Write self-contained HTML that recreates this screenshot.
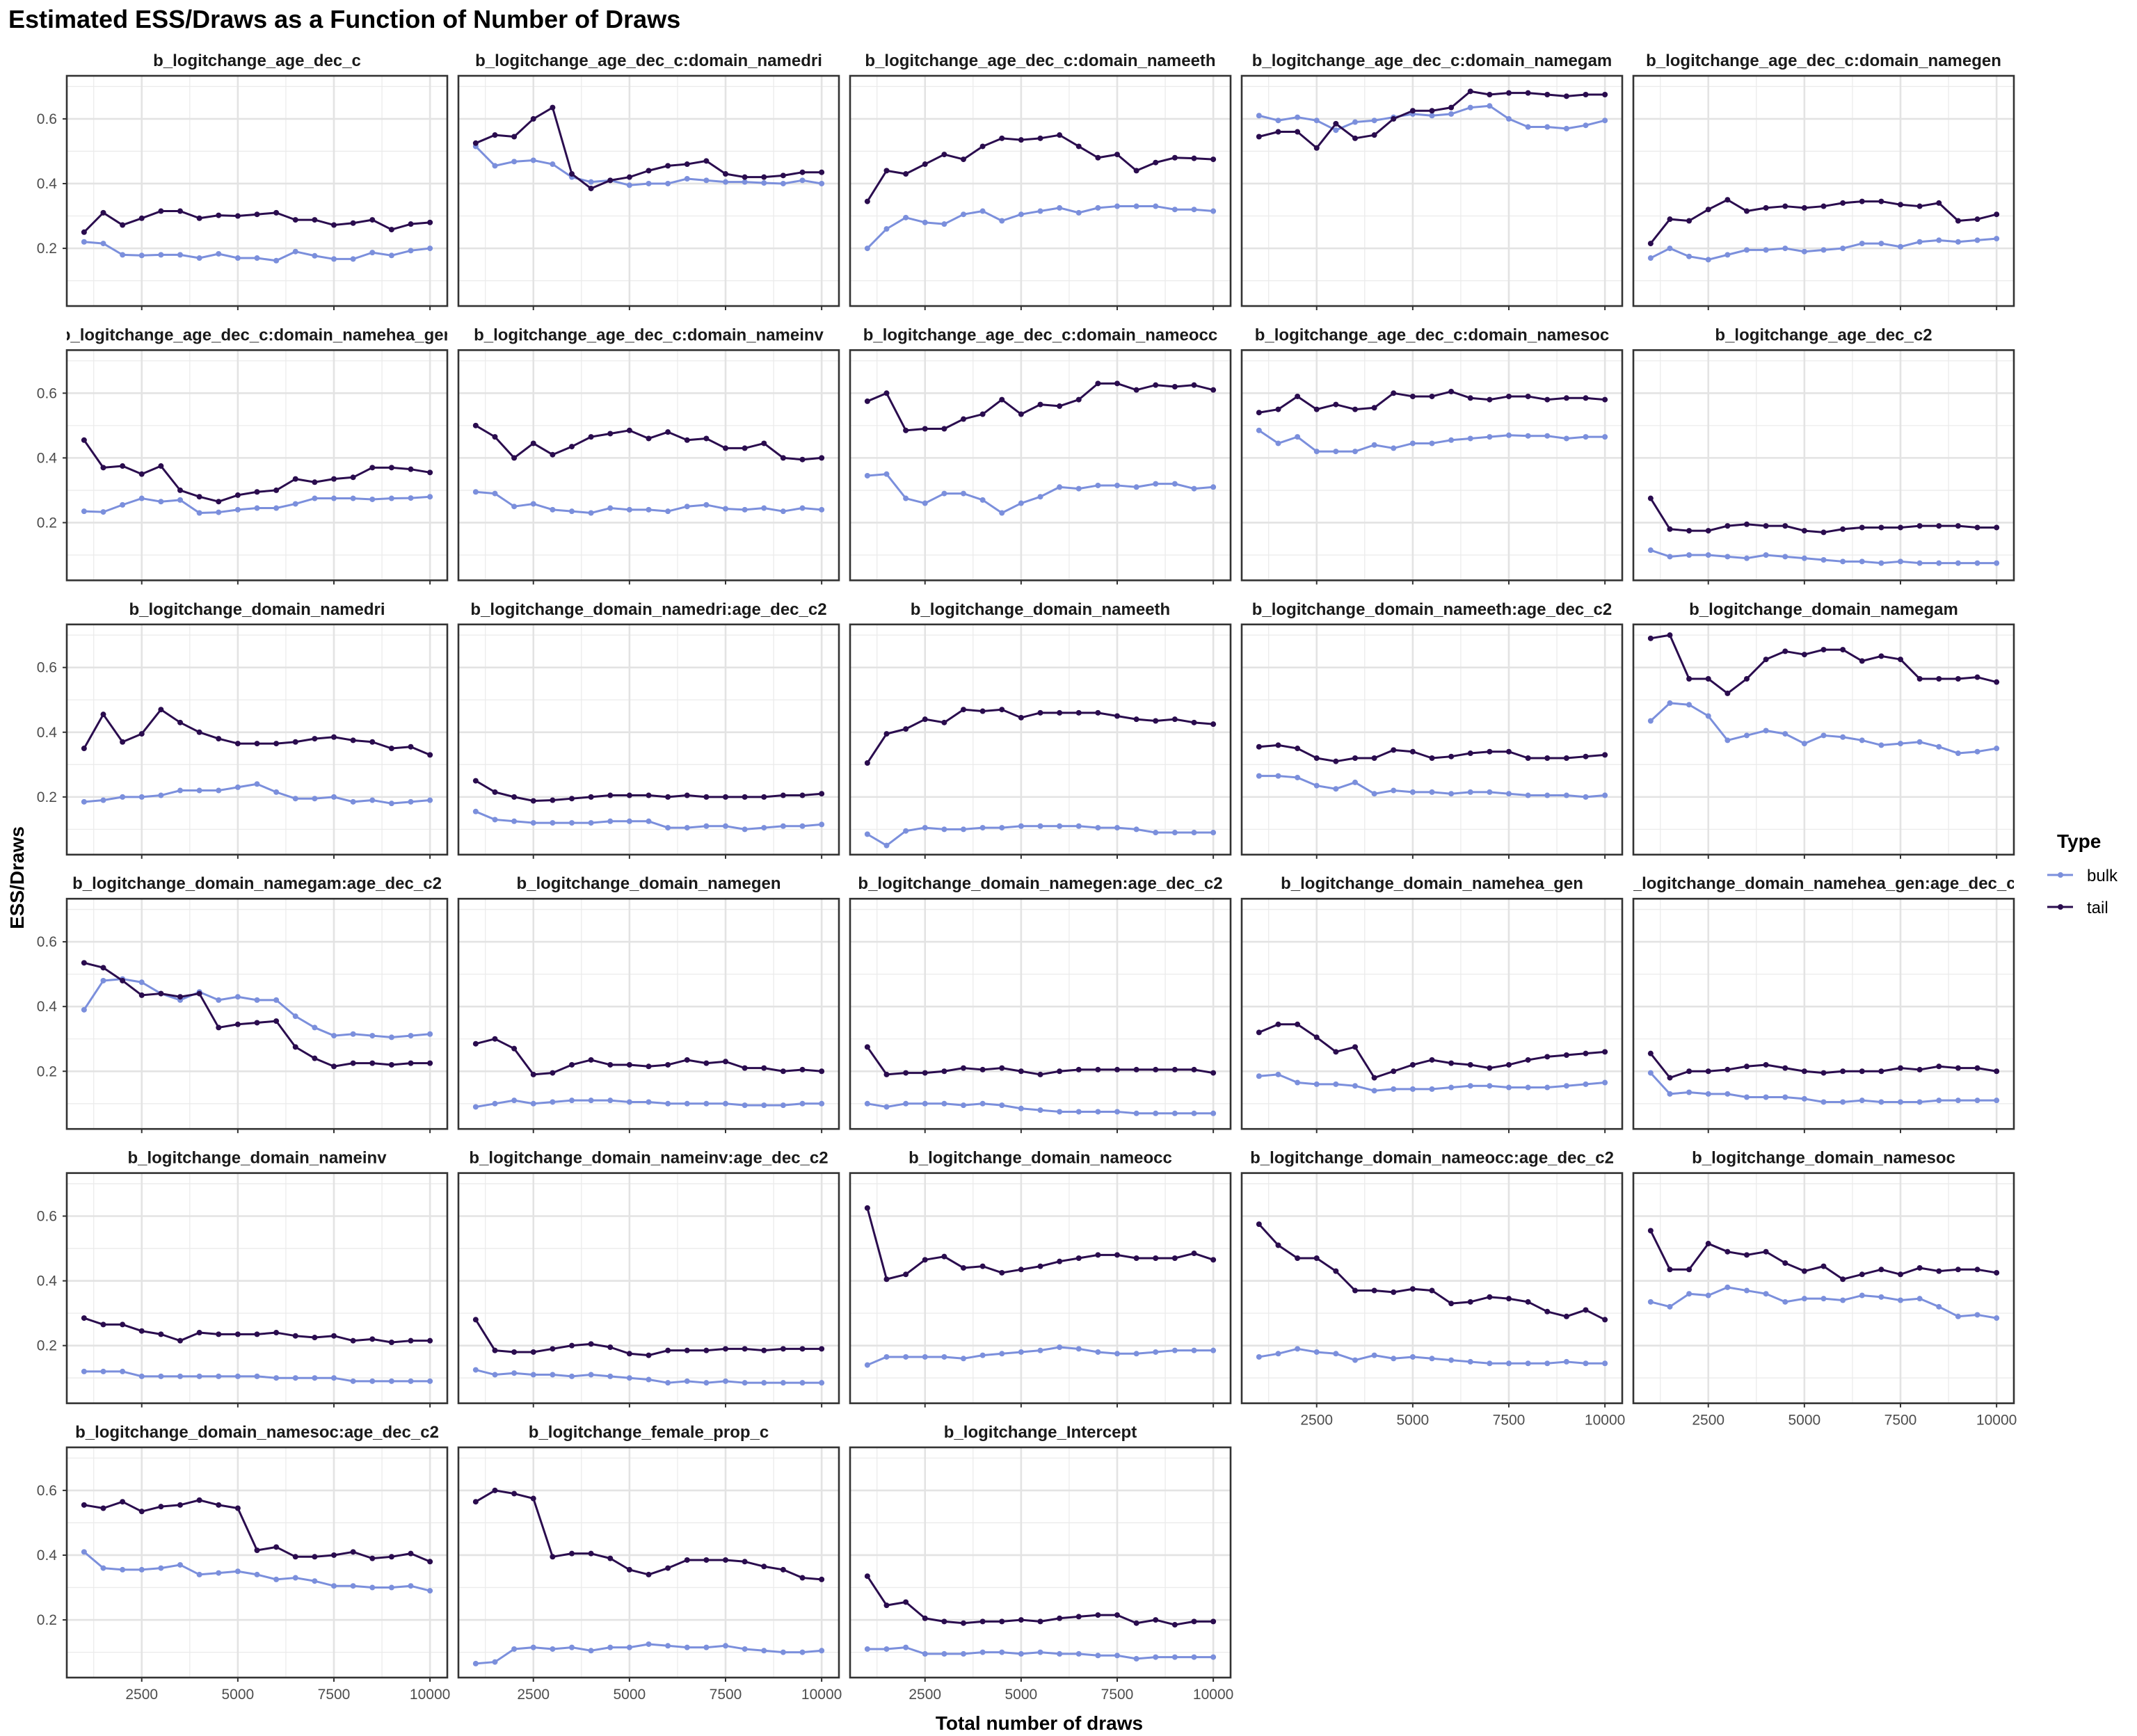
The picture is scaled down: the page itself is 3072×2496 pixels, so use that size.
<!DOCTYPE html>
<html><head><meta charset="utf-8"><style>
html,body{margin:0;padding:0;background:#fff;}
svg{display:block;font-family:"Liberation Sans",Arial,sans-serif;}
</style></head><body>
<svg id="chart" width="3072" height="2496" viewBox="0 0 3072 2496" xmlns="http://www.w3.org/2000/svg">
<rect x="0" y="0" width="3072" height="2496" fill="#fff"/>
<text x="12" y="40" font-size="36" font-weight="bold" fill="#000">Estimated ESS/Draws as a Function of Number of Draws</text>
<text transform="translate(34,1262) rotate(-90)" text-anchor="middle" font-size="28" font-weight="bold" fill="#000">ESS/Draws</text>
<text x="1494" y="2487" text-anchor="middle" font-size="28" font-weight="bold" fill="#000">Total number of draws</text>
<g>
<text x="2957" y="1219" font-size="28" font-weight="bold" fill="#000">Type</text>
<g>
<line x1="2943" y1="1258" x2="2980" y2="1258" stroke="#7b8fdc" stroke-width="3"/><circle cx="2962" cy="1258" r="4" fill="#7b8fdc"/>
<text x="3000" y="1267" font-size="24" fill="#000">bulk</text></g>
<g>
<line x1="2943" y1="1304" x2="2980" y2="1304" stroke="#2a0c4e" stroke-width="3"/><circle cx="2962" cy="1304" r="4" fill="#2a0c4e"/>
<text x="3000" y="1313" font-size="24" fill="#000">tail</text></g>
</g>
<g id="panels"></g>
</svg>
<script>
const draws = [1000,1500,2000,2500,3000,3500,4000,4500,5000,5500,6000,6500,7000,7500,8000,8500,9000,9500,10000];
const yTicks = [0.2,0.4,0.6];
const yTickLabels = ["0.2","0.4","0.6"];
const xTicks = [2500,5000,7500,10000];
const xTickLabels = ["2500","5000","7500","10000"];
const panelTitles = [
"b_logitchange_age_dec_c","b_logitchange_age_dec_c:domain_namedri","b_logitchange_age_dec_c:domain_nameeth","b_logitchange_age_dec_c:domain_namegam","b_logitchange_age_dec_c:domain_namegen",
"b_logitchange_age_dec_c:domain_namehea_gen","b_logitchange_age_dec_c:domain_nameinv","b_logitchange_age_dec_c:domain_nameocc","b_logitchange_age_dec_c:domain_namesoc","b_logitchange_age_dec_c2",
"b_logitchange_domain_namedri","b_logitchange_domain_namedri:age_dec_c2","b_logitchange_domain_nameeth","b_logitchange_domain_nameeth:age_dec_c2","b_logitchange_domain_namegam",
"b_logitchange_domain_namegam:age_dec_c2","b_logitchange_domain_namegen","b_logitchange_domain_namegen:age_dec_c2","b_logitchange_domain_namehea_gen","b_logitchange_domain_namehea_gen:age_dec_c2",
"b_logitchange_domain_nameinv","b_logitchange_domain_nameinv:age_dec_c2","b_logitchange_domain_nameocc","b_logitchange_domain_nameocc:age_dec_c2","b_logitchange_domain_namesoc",
"b_logitchange_domain_namesoc:age_dec_c2","b_logitchange_female_prop_c","b_logitchange_Intercept"];
const bulk = [
[.22,.215,.18,.178,.18,.18,.17,.183,.17,.17,.162,.19,.177,.167,.167,.187,.178,.193,.2],
[.515,.455,.468,.472,.46,.42,.405,.41,.395,.4,.4,.415,.41,.405,.405,.402,.4,.41,.4],
[.2,.26,.295,.28,.275,.305,.315,.285,.305,.315,.325,.31,.325,.33,.33,.33,.32,.32,.315],
[.61,.595,.605,.595,.565,.59,.595,.605,.615,.61,.615,.635,.64,.6,.575,.575,.57,.58,.595],
[.17,.2,.175,.165,.18,.195,.195,.2,.19,.195,.2,.215,.215,.205,.22,.225,.22,.225,.23],
[.235,.233,.255,.275,.265,.27,.23,.232,.24,.245,.245,.258,.275,.275,.275,.272,.275,.276,.28],
[.295,.29,.25,.258,.24,.235,.23,.245,.24,.24,.235,.25,.255,.243,.24,.245,.235,.245,.24],
[.345,.35,.275,.26,.29,.29,.27,.23,.26,.28,.31,.305,.315,.315,.31,.32,.32,.305,.31],
[.485,.445,.465,.42,.42,.42,.44,.43,.445,.445,.455,.46,.465,.47,.468,.468,.46,.465,.465],
[.115,.095,.1,.1,.095,.09,.1,.095,.09,.085,.08,.08,.075,.08,.075,.075,.075,.075,.075],
[.185,.19,.2,.2,.205,.22,.22,.22,.23,.24,.215,.195,.195,.2,.185,.19,.18,.185,.19],
[.155,.13,.125,.12,.12,.12,.12,.125,.125,.125,.105,.105,.11,.11,.1,.105,.11,.11,.115],
[.085,.05,.095,.105,.1,.1,.105,.105,.11,.11,.11,.11,.105,.105,.1,.09,.09,.09,.09],
[.265,.265,.26,.235,.225,.245,.21,.22,.215,.215,.21,.215,.215,.21,.205,.205,.205,.2,.205],
[.435,.49,.485,.45,.375,.39,.405,.395,.365,.39,.385,.375,.36,.365,.37,.355,.335,.34,.35],
[.39,.48,.485,.475,.44,.42,.445,.42,.43,.42,.42,.37,.335,.31,.315,.31,.305,.31,.315],
[.09,.1,.11,.1,.105,.11,.11,.11,.105,.105,.1,.1,.1,.1,.095,.095,.095,.1,.1],
[.1,.09,.1,.1,.1,.095,.1,.095,.085,.08,.075,.075,.075,.075,.07,.07,.07,.07,.07],
[.185,.19,.165,.16,.16,.155,.14,.145,.145,.145,.15,.155,.155,.15,.15,.15,.155,.16,.165],
[.195,.13,.135,.13,.13,.12,.12,.12,.115,.105,.105,.11,.105,.105,.105,.11,.11,.11,.11],
[.12,.12,.12,.105,.105,.105,.105,.105,.105,.105,.1,.1,.1,.1,.09,.09,.09,.09,.09],
[.125,.11,.115,.11,.11,.105,.11,.105,.1,.095,.085,.09,.085,.09,.085,.085,.085,.085,.085],
[.14,.165,.165,.165,.165,.16,.17,.175,.18,.185,.195,.19,.18,.175,.175,.18,.185,.185,.185],
[.165,.175,.19,.18,.175,.155,.17,.16,.165,.16,.155,.15,.145,.145,.145,.145,.15,.145,.145],
[.335,.32,.36,.355,.38,.37,.36,.335,.345,.345,.34,.355,.35,.34,.345,.32,.29,.295,.285],
[.41,.36,.355,.355,.36,.37,.34,.345,.35,.34,.325,.33,.32,.305,.305,.3,.3,.305,.29],
[.065,.07,.11,.115,.11,.115,.105,.115,.115,.125,.12,.115,.115,.12,.11,.105,.1,.1,.105],
[.11,.11,.115,.095,.095,.095,.1,.1,.095,.1,.095,.095,.09,.09,.08,.085,.085,.085,.085]];
const tail = [
[.25,.31,.272,.293,.315,.315,.293,.302,.3,.305,.31,.288,.288,.272,.278,.288,.258,.275,.28],
[.525,.55,.545,.6,.635,.43,.385,.41,.42,.44,.455,.46,.47,.43,.42,.42,.425,.435,.435],
[.345,.44,.43,.46,.49,.475,.515,.54,.535,.54,.55,.515,.48,.49,.44,.465,.48,.478,.475],
[.545,.56,.56,.51,.585,.54,.55,.6,.625,.625,.635,.685,.675,.68,.68,.675,.67,.675,.675],
[.215,.29,.285,.32,.35,.315,.325,.33,.325,.33,.34,.345,.345,.335,.33,.34,.285,.29,.305],
[.455,.37,.375,.35,.375,.3,.28,.265,.285,.295,.3,.335,.325,.335,.34,.37,.37,.365,.355],
[.5,.465,.4,.445,.41,.435,.465,.475,.485,.46,.48,.455,.46,.43,.43,.445,.4,.395,.4],
[.575,.6,.485,.49,.49,.52,.535,.58,.535,.565,.56,.58,.63,.63,.61,.625,.62,.625,.61],
[.54,.55,.59,.55,.565,.55,.555,.6,.59,.59,.605,.585,.58,.59,.59,.58,.585,.585,.58],
[.275,.18,.175,.175,.19,.195,.19,.19,.175,.17,.18,.185,.185,.185,.19,.19,.19,.185,.185],
[.35,.455,.37,.395,.47,.43,.4,.38,.365,.365,.365,.37,.38,.385,.375,.37,.35,.355,.33],
[.25,.215,.2,.188,.19,.195,.2,.205,.205,.205,.2,.205,.2,.2,.2,.2,.205,.205,.21],
[.305,.395,.41,.44,.43,.47,.465,.47,.445,.46,.46,.46,.46,.45,.44,.435,.44,.43,.425],
[.355,.36,.35,.32,.31,.32,.32,.345,.34,.32,.325,.335,.34,.34,.32,.32,.32,.325,.33],
[.69,.7,.565,.565,.52,.565,.625,.65,.64,.655,.655,.62,.635,.625,.565,.565,.565,.57,.555],
[.535,.52,.48,.435,.44,.43,.44,.335,.345,.35,.355,.275,.24,.215,.225,.225,.22,.225,.225],
[.285,.3,.27,.19,.195,.22,.235,.22,.22,.215,.22,.235,.225,.23,.21,.21,.2,.205,.2],
[.275,.19,.195,.195,.2,.21,.205,.21,.2,.19,.2,.205,.205,.205,.205,.205,.205,.205,.195],
[.32,.345,.345,.305,.26,.275,.18,.2,.22,.235,.225,.22,.21,.22,.235,.245,.25,.255,.26],
[.255,.18,.2,.2,.205,.215,.22,.21,.2,.195,.2,.2,.2,.21,.205,.215,.21,.21,.2],
[.285,.265,.265,.245,.235,.215,.24,.235,.235,.235,.24,.23,.225,.23,.215,.22,.21,.215,.215],
[.28,.185,.18,.18,.19,.2,.205,.195,.175,.17,.185,.185,.185,.19,.19,.185,.19,.19,.19],
[.625,.405,.42,.465,.475,.44,.445,.425,.435,.445,.46,.47,.48,.48,.47,.47,.47,.485,.465],
[.575,.51,.47,.47,.43,.37,.37,.365,.375,.37,.33,.335,.35,.345,.335,.305,.29,.31,.28],
[.555,.435,.435,.515,.49,.48,.49,.455,.43,.445,.405,.42,.435,.42,.44,.43,.435,.435,.425],
[.555,.545,.565,.535,.55,.555,.57,.555,.545,.415,.425,.395,.395,.4,.41,.39,.395,.405,.38],
[.565,.6,.59,.575,.395,.405,.405,.39,.355,.34,.36,.385,.385,.385,.38,.365,.355,.33,.325],
[.335,.245,.255,.205,.195,.19,.195,.195,.2,.195,.205,.21,.215,.215,.19,.2,.185,.195,.195]];

const NS="http://www.w3.org/2000/svg";
const PX0=96, PW=547, PSTEP=563, PY0=109, PH=331, RSTEP=394.4;
const XMIN=550, XMAX=10450, YMIN=0.0218, YMAX=0.733;
const BULK="#7b8fdc", TAIL="#2a0c4e";
function mk(tag,attrs,parent){const e=document.createElementNS(NS,tag);for(const k in attrs)e.setAttribute(k,attrs[k]);parent.appendChild(e);return e;}
const root=document.getElementById('panels');
const defs=mk('defs',{},root);
const n=panelTitles.length;
for(let i=0;i<n;i++){
  const col=i%5,row=Math.floor(i/5);
  const px=PX0+col*PSTEP, py=PY0+row*RSTEP;
  const sx=v=>px+(v-XMIN)/(XMAX-XMIN)*PW;
  const sy=v=>py+PH-(v-YMIN)/(YMAX-YMIN)*PH;
  const g=mk('g',{},root);
  
  
  const cp=mk('clipPath',{id:'cp'+i},defs);
  mk('rect',{x:px,y:py-50,width:PW,height:50},cp);
  const st=mk('text',{x:px+PW/2,y:py-14,'text-anchor':'middle','font-size':'24','font-weight':'bold',fill:'#1a1a1a','clip-path':'url(#cp'+i+')'},g);
  
  
  st.textContent=panelTitles[i];
  // minor grid
  [0.1,0.3,0.5,0.7].forEach(v=>mk('line',{x1:px,x2:px+PW,y1:sy(v),y2:sy(v),stroke:'#ebebeb','stroke-width':1.3},g));
  [1250,3750,6250,8750].forEach(v=>mk('line',{x1:sx(v),x2:sx(v),y1:py,y2:py+PH,stroke:'#ebebeb','stroke-width':1.3},g));
  yTicks.forEach(v=>mk('line',{x1:px,x2:px+PW,y1:sy(v),y2:sy(v),stroke:'#e3e3e3','stroke-width':2.6},g));
  xTicks.forEach(v=>mk('line',{x1:sx(v),x2:sx(v),y1:py,y2:py+PH,stroke:'#e3e3e3','stroke-width':2.6},g));
  mk('rect',{x:px,y:py,width:PW,height:PH,fill:'none',stroke:'#333','stroke-width':2.6},g);
  xTicks.forEach(v=>mk('line',{x1:sx(v),x2:sx(v),y1:py+PH,y2:py+PH+6,stroke:'#333','stroke-width':2},g));
  if(col===0){
    yTicks.forEach((v,k)=>{
      mk('line',{x1:px-6,x2:px,y1:sy(v),y2:sy(v),stroke:'#333','stroke-width':2},g);
      const t=mk('text',{x:px-14,y:sy(v)+7,'text-anchor':'end','font-size':'21',fill:'#4d4d4d'},g);
      
      
      t.textContent=yTickLabels[k];
    });
  }
  const last=(i+5>=n);
  if(last){
    xTicks.forEach((v,k)=>{
      const t=mk('text',{x:sx(v),y:py+PH+31,'text-anchor':'middle','font-size':'21',fill:'#4d4d4d'},g);
      
      
      t.textContent=xTickLabels[k];
    });
  }
  [[bulk[i],BULK,'bulk'],[tail[i],TAIL,'tail']].forEach(([vals,color,nm])=>{
    const pts=vals.map((v,k)=>sx(draws[k])+','+sy(v)).join(' ');
    const pl=mk('polyline',{points:pts,fill:'none',stroke:color,'stroke-width':3,'stroke-linejoin':'round'},g);
    
    
    vals.forEach((v,k)=>{
      const c=mk('circle',{cx:sx(draws[k]),cy:sy(v),r:4,fill:color},g);
      
      
    });
  });
}
</script>
</body></html>
